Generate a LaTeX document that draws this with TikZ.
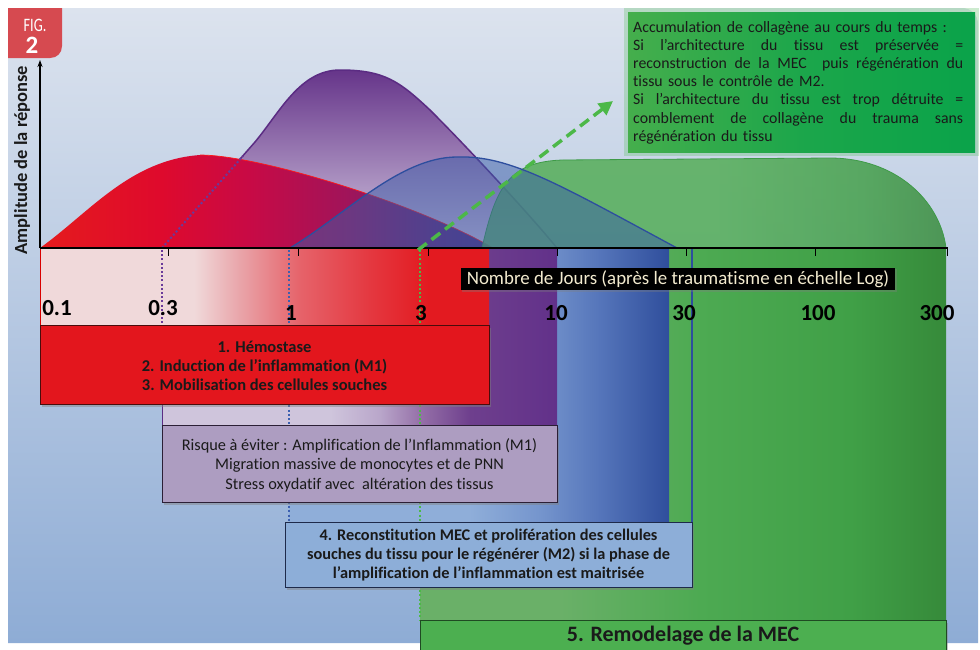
\documentclass[tikz,border=0pt]{standalone}
\usepackage{fontspec}
\setmainfont{Carlito}[Ligatures=NoCommon]
\usetikzlibrary{arrows.meta,shadows}
\definecolor{bgT}{HTML}{DCE3EE}
\definecolor{bgM}{HTML}{D3DCEA}
\definecolor{bgB}{HTML}{8EACD5}
\definecolor{figred}{HTML}{D64A50}
\definecolor{txt}{HTML}{1A1A1A}
\definecolor{cream}{HTML}{F3EBCF}
% red curve
\definecolor{rcA}{HTML}{E51B1D}
\definecolor{rcA2}{HTML}{DF0A2C}
\definecolor{rcB}{HTML}{C80A45}
\definecolor{rcC}{HTML}{A0145A}
\definecolor{rcD}{HTML}{5E2878}
\definecolor{rcE}{HTML}{4A2D80}
% purple curve
\definecolor{pcT}{HTML}{66358A}
\definecolor{pcB}{HTML}{D3C8E0}
\definecolor{purpleline}{HTML}{5B2C83}
\definecolor{purpledot}{HTML}{6A3A9A}
% blue curve
\definecolor{bluecurve}{HTML}{3A5CA8}
\definecolor{blueline}{HTML}{2D4E9E}
\definecolor{bluedot}{HTML}{3C60B0}
% green curve
\definecolor{gcA}{HTML}{55AE58}
\definecolor{gcB}{HTML}{45A04B}
\definecolor{gcC}{HTML}{3A8C3E}
\definecolor{greenline}{HTML}{3E9A47}
\definecolor{greendot}{HTML}{4CB848}
% bands
\definecolor{rbA}{HTML}{F0D9DA}
\definecolor{rbB}{HTML}{E9A5AA}
\definecolor{rbC}{HTML}{E6636A}
\definecolor{rbD}{HTML}{E43840}
\definecolor{rbE}{HTML}{E31A20}
\definecolor{pbA}{HTML}{CFC5DC}
\definecolor{pbB}{HTML}{B9A6CA}
\definecolor{pbC}{HTML}{9570A8}
\definecolor{pbD}{HTML}{6E3F8D}
\definecolor{pbE}{HTML}{62318A}
\definecolor{bbA}{HTML}{8FAED9}
\definecolor{bbB}{HTML}{7595CD}
\definecolor{bbC}{HTML}{5575BA}
\definecolor{bbD}{HTML}{2F4E9C}
\definecolor{gbA}{HTML}{6AB068}
\definecolor{gbB}{HTML}{4DAA52}
\definecolor{gbC}{HTML}{40A047}
\definecolor{gbD}{HTML}{368A3A}
% boxes
\definecolor{redbox}{HTML}{E3161D}
\definecolor{rbline}{HTML}{4A0C0C}
\definecolor{purplebox}{HTML}{AD9DC1}
\definecolor{pbline}{HTML}{2B1F35}
\definecolor{bluebox}{HTML}{8DAED8}
\definecolor{bbline}{HTML}{1E2A4A}
\definecolor{greenbox}{HTML}{4CAF50}
\definecolor{gbline}{HTML}{1F4A22}
\definecolor{accA}{HTML}{45AE4C}
\definecolor{accB}{HTML}{0AA34A}
\definecolor{accglow}{HTML}{5CBF62}
\definecolor{arrowgreen}{HTML}{4CB848}

\pgfdeclarehorizontalshading{redcurve}{100bp}{color(0bp)=(rcA); color(25bp)=(rcA); color(38bp)=(rcA2); color(48bp)=(rcB); color(59bp)=(rcC); color(70bp)=(rcD); color(75bp)=(rcE); color(100bp)=(rcE)}
\pgfdeclarehorizontalshading{greencurve}{100bp}{color(0bp)=(gcA); color(25bp)=(gcA); color(50bp)=(gcA); color(66bp)=(gcB); color(75bp)=(gcC); color(100bp)=(gcC)}
\pgfdeclarehorizontalshading{redband}{100bp}{color(0bp)=(rbA); color(25bp)=(rbA); color(42.2bp)=(rbA); color(47.2bp)=(rbB); color(53.9bp)=(rbC); color(61.7bp)=(rbD); color(68.3bp)=(rbE); color(75bp)=(rbE); color(100bp)=(rbE)}
\pgfdeclarehorizontalshading{purpleband}{100bp}{color(0bp)=(pbA); color(25bp)=(pbA); color(46.3bp)=(pbA); color(52.6bp)=(pbB); color(57.7bp)=(pbC); color(64bp)=(pbD); color(75bp)=(pbE); color(100bp)=(pbE)}
\pgfdeclarehorizontalshading{blueband}{100bp}{color(0bp)=(bbA); color(25bp)=(bbA); color(48.7bp)=(bbA); color(58bp)=(bbB); color(65.9bp)=(bbC); color(75bp)=(bbD); color(100bp)=(bbD)}
\pgfdeclarehorizontalshading{greenband}{100bp}{color(0bp)=(gbA); color(25bp)=(gbA); color(38.3bp)=(gbA); color(51.6bp)=(gbB); color(65.9bp)=(gbC); color(75bp)=(gbD); color(100bp)=(gbD)}
\pgfdeclarehorizontalshading{accbox}{100bp}{color(0bp)=(accA); color(25bp)=(accA); color(50bp)=(accB!70!accA); color(75bp)=(accB); color(100bp)=(accB)}

\newcommand{\jline}[1]{\makebox[330pt][s]{\spaceskip=0.23em plus 1fil\relax #1}}

\begin{document}
\begin{tikzpicture}[x=1pt,y=-1pt,
  boxstyle/.style={draw, line width=0.8pt, inner sep=0pt,
    drop shadow={shadow xshift=2pt, shadow yshift=-2.5pt, opacity=0.45}},
  boxtext/.style={align=center, text=txt, inner sep=0pt},
  dotline/.style={line width=2pt, dash pattern=on 2pt off 2.2pt},
  axtick/.style={line width=1pt, black},
  ticklabel/.style={anchor=base, inner sep=0pt, font=\bfseries\fontsize{23}{23}\selectfont, text=black},
]
\useasboundingbox (0,0) rectangle (980,649);
\fill[white] (0,0) rectangle (980,649);
% background
\shade[top color=bgT, middle color=bgM, bottom color=bgB]
  (8,643) -- (8,8) -- (962,8) .. controls (971,8) and (978,15) .. (978,24) -- (978,643) -- cycle;

% ---- bands below the axis
\shade[shading=greenband] (420,248) rectangle (946,652);
\shade[shading=blueband] (289,248) rectangle (669,522);
\shade[shading=purpleband] (162,248) rectangle (557,425);
\draw[purpleline, line width=1pt] (162,325) -- (162,425);
\shade[shading=redband] (40,248) rectangle (489,325);
\draw[red!85!black, line width=0.8pt] (40,248) -- (40,325);

% ---- curves above the axis
\shade[top color=pcT, bottom color=pcB]
  (162,248) -- (255,142) .. controls (280,112) and (300,70) .. (340,70)
  .. controls (385,70) and (400,82) .. (430,110)
  .. controls (470,150) and (530,215) .. (557,248) -- cycle;
\draw[purpleline, line width=1.5pt]
  (162,248) -- (255,142) .. controls (280,112) and (300,70) .. (340,70)
  .. controls (385,70) and (400,82) .. (430,110)
  .. controls (470,150) and (530,215) .. (557,248);
\shade[shading=redcurve]
  (40,248) .. controls (90,212) and (130,160) .. (200,155)
  .. controls (260,155) and (420,205) .. (493,248) -- cycle;
\draw[red!90!white, line width=0.7pt]
  (200,155) .. controls (260,155) and (420,205) .. (493,248);
\draw[dotline, purpledot] (162,248) -- (243,156);
\shade[shading=greencurve, fill opacity=0.85]
  (482,248) .. controls (496,185) and (510,162) .. (562,160) -- (830,158)
  .. controls (895,158) and (940,200) .. (946,248) -- cycle;
\draw[greenline, line width=0.8pt]
  (482,248) .. controls (496,185) and (510,162) .. (562,160) -- (830,158)
  .. controls (895,158) and (940,200) .. (946,248);
\fill[bluecurve, fill opacity=0.5]
  (290,248) .. controls (345,215) and (400,157) .. (457,157)
  .. controls (510,155) and (560,185) .. (677,248) -- cycle;
\draw[blueline, line width=1.3pt]
  (290,248) .. controls (345,215) and (400,157) .. (457,157)
  .. controls (510,155) and (560,185) .. (677,248);

% ---- dotted verticals
\draw[dotline, purpledot] (162,250) -- (162,325);
\draw[dotline, bluedot] (289,250) -- (289,522);
\draw[dotline, greendot] (420,250) -- (420,620);
\draw[blueline, line width=1.3pt] (692,248) -- (692,522);

% ---- phase boxes
\node[boxstyle, fill=greenbox, draw=gbline, minimum width=526pt, minimum height=32pt,
      text=txt, font=\bfseries\fontsize{22}{22}\selectfont] (b5) at (683,636) {5. Remodelage de la MEC};
\node[boxstyle, fill=bluebox, draw=bbline, minimum width=407pt, minimum height=65pt] (b4) at (488.5,554.5) {};
\node[boxtext, font=\bfseries\fontsize{16.3}{19}\selectfont] (t4) at (488.5,555)
  {4. Reconstitution MEC et prolifération des cellules\\souches du tissu pour le régénérer (M2) si la phase de\\l’amplification de l’inflammation est maitrisée};
\node[boxstyle, fill=purplebox, draw=pbline, minimum width=395pt, minimum height=77pt] (b2) at (359.5,463.5) {};
\node[boxtext, font=\fontsize{16.3}{19.5}\selectfont] (t2) at (359.5,465)
  {Risque à éviter : Amplification de l’Inflammation (M1)\\Migration massive de monocytes et de PNN\\Stress oxydatif avec \ altération des tissus};
\node[boxstyle, fill=redbox, draw=rbline, minimum width=449pt, minimum height=79pt] (b1) at (264.5,364.5) {};
\node[boxtext, font=\bfseries\fontsize{16.5}{19}\selectfont] (t1) at (264.5,365.5)
  {1. Hémostase\\2. Induction de l’inflammation (M1)\\3. Mobilisation des cellules souches};

% ---- axes
\coordinate (O) at (40,248);
\coordinate (Ytop) at (40,60);
\coordinate (Xend) at (948,248);
\draw[line width=1.3pt, -{Stealth[length=7pt,width=5pt]}] (O) -- (Ytop);
\draw[line width=1.2pt] (O) -- (Xend);
\foreach \x in {168,298,428,557,686,815,947} \draw[axtick] (\x,248) -- (\x,256);

\node[rotate=90, inner sep=0pt, text=txt, font=\bfseries\fontsize{18.5}{18.5}\selectfont] (ylab) at (22,160) {Amplitude de la réponse};

\node[ticklabel] (l1) at (57,315) {0.1};
\node[ticklabel] (l2) at (163,315) {0.3};
\node[ticklabel] (l3) at (291,320) {1};
\node[ticklabel] (l4) at (421,320) {3};
\node[ticklabel] (l5) at (556,320) {10};
\node[ticklabel] (l6) at (684,320) {30};
\node[ticklabel] (l7) at (818,320) {100};
\node[ticklabel] (l8) at (937,320) {300};

\node[fill=black, text=cream, inner xsep=6pt, inner ysep=2.5pt,
      font=\fontsize{18.9}{18.9}\selectfont,
      drop shadow={opacity=0.35, shadow xshift=1.5pt, shadow yshift=-1.5pt}] (nj) at (678,279)
  {Nombre de Jours (après le traumatisme en échelle Log)};

% ---- top-right note
\fill[accglow, opacity=0.3] (624,8) rectangle (979,156);
\shade[shading=accbox] (628,12) rectangle (975,152);
\node[anchor=north west, inner sep=0pt, text width=330pt, align=left, text=txt,
      font=\fontsize{15.8}{18.2}\selectfont] (acc) at (633,21)
  {Accumulation de collagène au cours du temps :\\
   \jline{Si l’architecture du tissu est préservée =}\\
   \jline{reconstruction de la MEC \ puis régénération du}\\
   tissu sous le contrôle de M2.\\
   \jline{Si l’architecture du tissu est trop détruite =}\\
   \jline{comblement de collagène du trauma sans}\\
   régénération du tissu};

% ---- dashed green arrow
\coordinate (As) at (418,250);
\coordinate (Ae) at (613,101);
\draw[arrowgreen, line width=3.5pt, dash pattern=on 11pt off 6pt,
      -{Triangle[length=14pt,width=14pt]}] (As) -- (Ae);

% ---- FIG badge
\fill[figred] (8,8) -- (62,8) -- (62,46) .. controls (62,53) and (57,58) .. (50,58) -- (8,58) -- cycle;
\node[text=white, inner sep=0pt, font=\fontsize{19}{19}\selectfont] (figA) at (35,25) {\scalebox{0.75}[1]{FIG.}};
\node[text=white, inner sep=0pt, font=\bfseries\fontsize{25}{25}\selectfont] (figB) at (32,45) {2};
\end{tikzpicture}
\end{document}
